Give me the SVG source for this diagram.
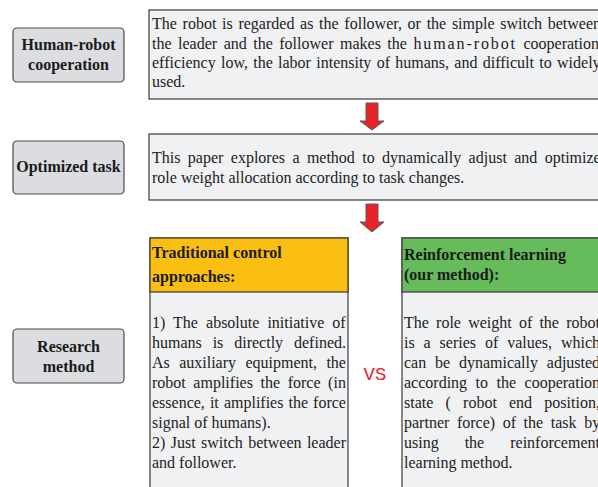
<svg xmlns="http://www.w3.org/2000/svg" width="598" height="487" viewBox="0 0 598 487">
<style>
.lbl{fill:#dcdde0;stroke:#4a4a4a;stroke-width:1.2}
.lt{font-family:'Liberation Serif','Times New Roman',Times,serif;font-weight:bold;font-size:16px;fill:#1a1a1a;text-anchor:middle}
.box{fill:#f0f1f3;stroke:#3a3a3a;stroke-width:1.2}
.t{font-family:'Liberation Serif','Times New Roman',Times,serif;font-size:16px;fill:#222;font-variant-ligatures:none}
.h{font-family:'Liberation Serif','Times New Roman',Times,serif;font-size:16px;font-weight:bold;fill:#1a1a1a}
.vs{font-family:'Liberation Mono','Courier New',monospace;font-size:19px;fill:#e8232a;text-anchor:middle}
.arr{fill:#e8232a;stroke:#5a5a5a;stroke-width:1}
</style>
<rect width="598" height="487" fill="#ffffff"/>

<g id="label-hrc">
<rect class="lbl" x="13" y="28" width="111" height="54" rx="4"/>
<text class="lt" x="68.5" y="50">Human-robot</text>
<text class="lt" x="68.5" y="70">cooperation</text>
</g>
<g id="label-task">
<rect class="lbl" x="13" y="141" width="111" height="53" rx="4"/>
<text class="lt" x="68.5" y="172">Optimized task</text>
</g>
<g id="label-method">
<rect class="lbl" x="13" y="329" width="111" height="54" rx="4"/>
<text class="lt" x="68.5" y="352">Research</text>
<text class="lt" x="68.5" y="372">method</text>
</g>

<g id="box-problem">
<rect class="box" x="149" y="10" width="460" height="89"/>
<text class="t" x="152" y="29" word-spacing="1.7">The robot is regarded as the follower, or the simple switch between</text>
<text class="t" x="152" y="49" word-spacing="2.5">the leader and the follower makes the <tspan letter-spacing="1.9">human-robot</tspan> cooperation</text>
<text class="t" x="152" y="68" word-spacing="1.3">efficiency low, the labor intensity of humans, and difficult to widely</text>
<text class="t" x="152" y="87">used.</text>
</g>

<g id="box-task">
<rect class="box" x="149" y="134" width="460" height="66"/>
<text class="t" x="152" y="163" word-spacing="3.4">This paper explores a method to dynamically adjust and optimize</text>
<text class="t" x="152" y="183">role weight allocation according to task changes.</text>
</g>

<g id="box-traditional">
<rect class="box" x="150" y="238" width="198" height="262"/>
<rect x="150" y="238" width="198" height="54" fill="#fbbf13" stroke="#3a3a3a" stroke-width="1.2"/>
<text class="h" x="152" y="258">Traditional control</text>
<text class="h" x="152" y="282">approaches:</text>
<text class="t" x="152" y="328" word-spacing="4.06">1) The absolute initiative of</text>
<text class="t" x="152" y="348" word-spacing="6.9">humans is directly defined.</text>
<text class="t" x="152" y="368" word-spacing="5.4">As auxiliary equipment, the</text>
<text class="t" x="152" y="388" word-spacing="3.6">robot amplifies the force (in</text>
<text class="t" x="152" y="408" word-spacing="1.07">essence, it amplifies the force</text>
<text class="t" x="152" y="428">signal of humans).</text>
<text class="t" x="152" y="448" word-spacing="1.4">2) Just switch between leader</text>
<text class="t" x="152" y="468">and follower.</text>
</g>

<g id="vs">
<text class="vs" x="375" y="380">VS</text>
</g>

<g id="box-rl">
<rect class="box" x="402" y="238" width="210" height="262"/>
<rect x="402" y="238" width="210" height="54" fill="#66bb5b" stroke="#3a3a3a" stroke-width="1.2"/>
<text class="h" x="404" y="260">Reinforcement learning</text>
<text class="h" x="404" y="280">(our method):</text>
<text class="t" x="404" y="328" word-spacing="3.2">The role weight of the robot</text>
<text class="t" x="404" y="348" word-spacing="4.9">is a series of values, which</text>
<text class="t" x="404" y="368" word-spacing="4.8">can be dynamically adjusted</text>
<text class="t" x="404" y="388" word-spacing="4.5">according to the cooperation</text>
<text class="t" x="404" y="408" word-spacing="8.2">state ( robot end position,</text>
<text class="t" x="404" y="428" word-spacing="3.6">partner force) of the task by</text>
<text class="t" x="404" y="448" word-spacing="22">using the reinforcement</text>
<text class="t" x="404" y="468">learning method.</text>
</g>

<g id="connectors">
<polygon class="arr" points="366,103 378,103 378,121 384,121 372,130 360,121 366,121"/>
<polygon class="arr" points="366,204 378,204 378,222 384,222 372,232 360,222 366,222"/>
</g>
</svg>
